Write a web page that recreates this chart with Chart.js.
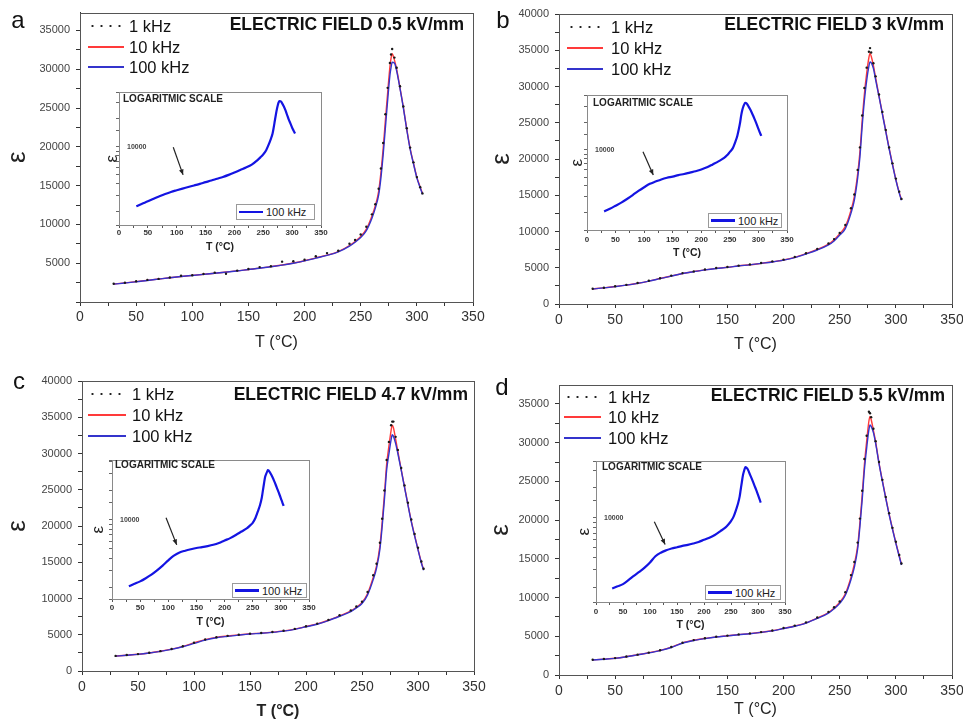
<!DOCTYPE html>
<html>
<head>
<meta charset="utf-8">
<title>Permittivity vs temperature</title>
<script src="https://cdn.jsdelivr.net/npm/chart.js@4.4.1/dist/chart.umd.min.js"></script>
<style>
  html, body { margin: 0; padding: 0; background: #fff; }
  body { width: 963px; height: 720px; overflow: hidden; position: relative; font-family: "Liberation Sans", Arial, sans-serif; }
  canvas, .t, .ln, .lg { position: absolute; }
  .t { white-space: nowrap; line-height: 1; color: #111; }
  .lg { border: 1px solid #9a9a9a; background: #fff; box-sizing: border-box; }
</style>
</head>
<body>
<script>
// Permitividad vs temperatura, 4 campos eléctricos, 3 frecuencias + inset log (100 kHz)

const TEMP = [30, 40, 50, 60, 70, 80, 90, 100, 110, 120, 130, 140, 150, 160, 170, 180, 190, 200, 210, 220, 230, 240,
  245, 250, 255, 260, 263, 266, 268, 270, 272, 274, 276, 277, 278, 280, 282, 285, 288, 291, 294, 297, 300, 303, 305];

// a) 0.5 kV/mm
const A_1K = [2350, 2480, 2680, 2850, 2980, 3150, 3380, 3450, 3600, 3780, 3650, 4050, 4250, 4500, 4600, 5200, 5250, 5450, 5900, 6300, 6600, 7500,
  8000, 8700, 9700, 11300, 12600, 14600, 17200, 20500, 24200, 27600, 30800, 31900, 32600, 31500, 30200, 27800, 25200, 22400, 19900, 18000, 16100, 14800, 14000];
const A_10K = [2320, 2460, 2620, 2790, 2960, 3130, 3290, 3430, 3570, 3710, 3860, 4010, 4190, 4360, 4560, 4770, 5020, 5320, 5680, 6040, 6500, 7280,
  7800, 8450, 9400, 11100, 12400, 14300, 16700, 19800, 23500, 27000, 30300, 31400, 32000, 31200, 30000, 27600, 25100, 22300, 19800, 17900, 16100, 14800, 14000];
const A_100K = [2300, 2450, 2600, 2780, 2950, 3120, 3280, 3420, 3560, 3700, 3850, 4000, 4180, 4350, 4550, 4750, 5000, 5300, 5650, 6000, 6450, 7200,
  7700, 8300, 9200, 10800, 12100, 13800, 16000, 19000, 22500, 26000, 29200, 30200, 30900, 30800, 29800, 27500, 25000, 22200, 19700, 17800, 16000, 14700, 13900];

// b) 3 kV/mm
const B_1K = [2100, 2250, 2440, 2640, 2900, 3200, 3560, 3920, 4260, 4500, 4760, 4960, 5110, 5300, 5460, 5660, 5880, 6120, 6500, 7000, 7600, 8350,
  8950, 9800, 10900, 13200, 15100, 18500, 21600, 26000, 29800, 32600, 34800, 35300, 34700, 33200, 31400, 28900, 26500, 24000, 21600, 19400, 17300, 15500, 14500];
const B_10K = [2080, 2230, 2410, 2610, 2860, 3160, 3510, 3860, 4210, 4460, 4710, 4910, 5060, 5260, 5410, 5610, 5820, 6070, 6430, 6950, 7520, 8250,
  8850, 9700, 10700, 12900, 14800, 18000, 21000, 25300, 29000, 31800, 34000, 34600, 34200, 32900, 31200, 28700, 26300, 23900, 21500, 19300, 17200, 15400, 14400];
const B_100K = [2070, 2220, 2400, 2600, 2850, 3150, 3500, 3850, 4200, 4450, 4700, 4900, 5050, 5250, 5400, 5600, 5800, 6050, 6400, 6900, 7450, 8150,
  8700, 9500, 10400, 12500, 14300, 17400, 20300, 24500, 28100, 30800, 32800, 33400, 33300, 32500, 30900, 28600, 26200, 23800, 21400, 19200, 17100, 15300, 14300];

// c) 4.7 kV/mm
const C_1K = [2080, 2200, 2330, 2510, 2740, 3040, 3420, 3900, 4350, 4660, 4850, 5010, 5150, 5250, 5380, 5560, 5810, 6170, 6530, 7050, 7680, 8360,
  8900, 9550, 10900, 13200, 14800, 17700, 21000, 24900, 29100, 31600, 33900, 34400, 34400, 32300, 30500, 28000, 25600, 23200, 20900, 18900, 17000, 15100, 14100];
const C_10K = [2060, 2180, 2310, 2490, 2720, 3020, 3400, 3880, 4330, 4640, 4830, 4990, 5130, 5230, 5360, 5530, 5780, 6130, 6490, 7000, 7610, 8280,
  8800, 9450, 10700, 12900, 14500, 17300, 20500, 24300, 28500, 31000, 33200, 33900, 33600, 32000, 30300, 27800, 25400, 23000, 20700, 18700, 16800, 15000, 14000];
const C_100K = [2050, 2170, 2300, 2480, 2700, 2990, 3350, 3800, 4250, 4580, 4780, 4950, 5100, 5200, 5330, 5500, 5750, 6100, 6450, 6950, 7550, 8200,
  8700, 9300, 10500, 12600, 14200, 16800, 19900, 23600, 27700, 29900, 31900, 32600, 32400, 31400, 30000, 27700, 25300, 22900, 20600, 18600, 16700, 14900, 13900];

// d) 5.5 kV/mm
const D_1K = [1970, 2070, 2180, 2380, 2630, 2890, 3200, 3620, 4170, 4510, 4750, 4950, 5090, 5240, 5370, 5540, 5750, 6060, 6380, 6800, 7420, 8150,
  8750, 9500, 10700, 12900, 14600, 17100, 20200, 23800, 27900, 30900, 34000, 33800, 33300, 31800, 30200, 27500, 25200, 23000, 20900, 19000, 17200, 15500, 14400];
const D_10K = [1950, 2050, 2160, 2360, 2610, 2870, 3180, 3600, 4150, 4490, 4730, 4930, 5070, 5220, 5350, 5520, 5720, 6020, 6330, 6740, 7350, 8070,
  8650, 9400, 10500, 12600, 14300, 16700, 19700, 23200, 27200, 30200, 32800, 33400, 33000, 31600, 30100, 27400, 25100, 22900, 20800, 18900, 17100, 15400, 14300];
const D_100K = [1940, 2040, 2150, 2350, 2600, 2850, 3150, 3550, 4100, 4450, 4700, 4900, 5050, 5200, 5330, 5500, 5700, 6000, 6300, 6700, 7300, 8000,
  8550, 9250, 10300, 12300, 13900, 16300, 19200, 22600, 26500, 29300, 31700, 32300, 32100, 31300, 29900, 27300, 25000, 22800, 20700, 18800, 17000, 15300, 14200];

// flechas del inset: [T, eps] inicio y punta
const ARROW_A = [[94, 9900], [111, 5000]];
const ARROW_B = [[98, 9560], [116, 5250]];
const ARROW_C = [[96, 10500], [115, 5490]];
const ARROW_D = [[108, 9100], [128, 5390]];

const FREQS = ["1 kHz", "10 kHz", "100 kHz"];
const FONT = '"Liberation Sans", Arial, sans-serif';
const RED = "#ff3a3a", BLUE = "#3434cc", BLUE_INS = "#1414e2";

const PANELS = [
  { letter: "a", field: "0.5", k1: A_1K, k10: A_10K, k100: A_100K, arrow: ARROW_A,
    cv: { x: 0, y: 0, w: 495, h: 360 }, plot: { l: 80, r: 473, t: 12, b: 302 }, ymax: 37300, hideZero: true,
    xLabelY: 317, xTitleY: 343, yTitleX: 18, xBold: false, letterPos: [18, 20],
    leg: { x0: 88, x1: 124, tx: 129, ys: [26, 47, 67] }, title: [464, 25],
    ins: { l: 119, r: 321, t: 88, b: 225, ymin: 1450, ymax: 38500, xLabelY: 233, xTitleY: 247, yTitleX: 112,
      log: [123, 99], lg: { l: 236, t: 204, r: 315, b: 220 } } },
  { letter: "b", field: "3", k1: B_1K, k10: B_10K, k100: B_100K, arrow: ARROW_B,
    cv: { x: 480, y: 0, w: 500, h: 360 }, plot: { l: 559, r: 952, t: 14, b: 304 }, ymax: 40000, hideZero: false,
    xLabelY: 320, xTitleY: 345, yTitleX: 502, xBold: false, letterPos: [503, 20],
    leg: { x0: 567, x1: 603, tx: 611, ys: [27, 48, 69] }, title: [944, 25],
    ins: { l: 587, r: 787, t: 91, b: 230, ymin: 1290, ymax: 40500, xLabelY: 240, xTitleY: 253, yTitleX: 577,
      log: [593, 103], lg: { l: 708, t: 213, r: 782, b: 228 } } },
  { letter: "c", field: "4.7", k1: C_1K, k10: C_10K, k100: C_100K, arrow: ARROW_C,
    cv: { x: 0, y: 360, w: 495, h: 370 }, plot: { l: 82, r: 474, t: 381, b: 671 }, ymax: 40000, hideZero: false,
    xLabelY: 687, xTitleY: 712, yTitleX: 18, xBold: true, letterPos: [19, 381],
    leg: { x0: 88, x1: 126, tx: 132, ys: [394, 415, 436] }, title: [468, 395],
    ins: { l: 112, r: 309, t: 456, b: 599, ymin: 1510, ymax: 41400, xLabelY: 608, xTitleY: 622, yTitleX: 98,
      log: [115, 465], lg: { l: 232, t: 583, r: 307, b: 598 } } },
  { letter: "d", field: "5.5", k1: D_1K, k10: D_10K, k100: D_100K, arrow: ARROW_D,
    cv: { x: 480, y: 360, w: 500, h: 370 }, plot: { l: 559, r: 952, t: 385, b: 675 }, ymax: 37450, hideZero: false,
    xLabelY: 691, xTitleY: 710, yTitleX: 501, xBold: false, letterPos: [502, 387],
    leg: { x0: 564, x1: 601, tx: 608, ys: [397, 417, 438] }, title: [945, 396],
    ins: { l: 596, r: 785, t: 457, b: 602, ymin: 1420, ymax: 37000, xLabelY: 612, xTitleY: 625, yTitleX: 584,
      log: [602, 467], lg: { l: 705, t: 585, r: 781, b: 600 } } }
];

const pairs = (xs, ys) => xs.map((x, i) => ({ x, y: ys[i] }));

// marco del área de trazado (y fondo blanco para el inset)
const frame = {
  id: "frame",
  beforeDraw(chart, args, o) {
    if (!o.fill) return;
    const { ctx, chartArea: a } = chart;
    ctx.save(); ctx.fillStyle = o.fill;
    ctx.fillRect(a.left, a.top, a.right - a.left, a.bottom - a.top);
    ctx.restore();
  },
  afterDraw(chart, args, o) {
    const { ctx, chartArea: a } = chart;
    ctx.save(); ctx.strokeStyle = o.color || "#444"; ctx.lineWidth = 1;
    ctx.strokeRect(Math.round(a.left) + 0.5, Math.round(a.top) + 0.5,
      Math.round(a.right - a.left), Math.round(a.bottom - a.top));
    ctx.restore();
  }
};

const arrow = {
  id: "arrow",
  afterDatasetsDraw(chart, args, o) {
    if (!o.pts) return;
    const { ctx, scales: { x, y } } = chart;
    const [p0, p1] = o.pts;
    const x0 = x.getPixelForValue(p0[0]), y0 = y.getPixelForValue(p0[1]);
    const x1 = x.getPixelForValue(p1[0]), y1 = y.getPixelForValue(p1[1]);
    const ang = Math.atan2(y1 - y0, x1 - x0);
    ctx.save(); ctx.strokeStyle = ctx.fillStyle = "#222"; ctx.lineWidth = 1.2;
    ctx.beginPath(); ctx.moveTo(x0, y0); ctx.lineTo(x1, y1); ctx.stroke();
    ctx.beginPath(); ctx.moveTo(x1, y1);
    ctx.lineTo(x1 - 6 * Math.cos(ang - 0.4), y1 - 6 * Math.sin(ang - 0.4));
    ctx.lineTo(x1 - 6 * Math.cos(ang + 0.4), y1 - 6 * Math.sin(ang + 0.4));
    ctx.closePath(); ctx.fill();
    ctx.restore();
  }
};

function makeCanvas(c) {
  const cv = document.createElement("canvas");
  cv.width = c.w; cv.height = c.h;
  cv.style.left = c.x + "px"; cv.style.top = c.y + "px";
  document.body.appendChild(cv);
  return cv;
}

function mainChart(p) {
  const c = p.cv;
  const xfs = 16, yfs = 26, tfs = 14, tl = 4;
  new Chart(makeCanvas(c), {
    type: "line",
    data: {
      datasets: [
        { label: FREQS[0], data: pairs(TEMP, p.k1), showLine: false, pointRadius: 1.2, pointBorderWidth: 0,
          pointBackgroundColor: "#1a1a1a", order: 0 },
        { label: FREQS[2], data: pairs(TEMP, p.k100), borderColor: BLUE, borderWidth: 1.4, pointRadius: 0,
          cubicInterpolationMode: "monotone", order: 1 },
        { label: FREQS[1], data: pairs(TEMP, p.k10), borderColor: RED, borderWidth: 1.4, pointRadius: 0,
          cubicInterpolationMode: "monotone", order: 2 }
      ]
    },
    options: {
      responsive: false, animation: false, events: [], devicePixelRatio: 1,
      layout: { padding: { top: p.plot.t - c.y, right: c.x + c.w - p.plot.r, left: 0, bottom: 0 } },
      plugins: { legend: { display: false }, tooltip: { enabled: false }, frame: { color: "#555" } },
      scales: {
        x: {
          type: "linear", min: 0, max: 350,
          afterFit: (s) => { s.height = c.y + c.h - p.plot.b; },
          border: { color: "#333", width: 1 },
          grid: { drawOnChartArea: false, tickLength: tl, color: "#333" },
          ticks: { stepSize: 25, autoSkip: false, maxRotation: 0, color: "#333",
            padding: p.xLabelY - p.plot.b - tl - tfs * 0.6,
            font: { size: tfs, family: FONT },
            callback: (v) => v % 50 === 0 ? String(v) : "" },
          title: { display: true, text: "T (°C)", color: "#222",
            font: { size: xfs, family: FONT, weight: p.xBold ? "bold" : "normal" },
            padding: { top: 0, bottom: c.y + c.h - p.xTitleY - xfs * 0.6 } }
        },
        y: {
          min: 0, max: p.ymax,
          afterFit: (s) => { s.width = p.plot.l - c.x; },
          // marcas cada 2500, etiqueta cada 5000
          afterBuildTicks: (s) => {
            const t = [];
            for (let v = 0; v <= p.ymax; v += 2500) t.push({ value: v });
            s.ticks = t;
          },
          border: { color: "#333", width: 1 },
          grid: { drawOnChartArea: false, tickLength: tl, color: "#333" },
          ticks: { autoSkip: false, padding: 6, color: "#444",
            font: { size: 11, family: FONT },
            callback: (v) => (v % 5000 === 0 && !(p.hideZero && v === 0)) ? String(v) : "" },
          title: { display: true, text: "ε", color: "#222", font: { size: yfs, family: FONT },
            padding: { top: p.yTitleX - c.x - yfs * 0.6, bottom: 0 } }
        }
      }
    },
    plugins: [frame]
  });
}

function insetChart(p) {
  const b = p.ins;
  const c = { x: b.l - 24, y: b.t - 8 };
  c.w = b.r + 12 - c.x; c.h = b.xTitleY + 10 - c.y;
  const tl = 3, efs = 17;
  new Chart(makeCanvas(c), {
    type: "line",
    data: {
      datasets: [{ label: FREQS[2], data: pairs(TEMP, p.k100), borderColor: BLUE_INS, borderWidth: 2.2,
        pointRadius: 0, cubicInterpolationMode: "monotone" }]
    },
    options: {
      responsive: false, animation: false, events: [], devicePixelRatio: 1,
      layout: { padding: { top: 8, right: 12, left: 0, bottom: 0 } },
      plugins: { legend: { display: false }, tooltip: { enabled: false },
        frame: { color: "#8a8a8a", fill: "#fff" }, arrow: { pts: p.arrow } },
      scales: {
        x: {
          type: "linear", min: 0, max: 350,
          afterFit: (s) => { s.height = c.y + c.h - b.b; },
          border: { color: "#777", width: 1 },
          grid: { drawOnChartArea: false, tickLength: tl, color: "#555" },
          ticks: { stepSize: 25, autoSkip: false, maxRotation: 0, color: "#333",
            padding: Math.max(0, b.xLabelY - b.b - tl - 8 * 0.6),
            font: { size: 8, family: FONT, weight: "bold" },
            callback: (v) => v % 50 === 0 ? String(v) : "" },
          title: { display: true, text: "T (°C)", color: "#222", font: { size: 10.5, family: FONT, weight: "bold" },
            padding: { top: 0, bottom: 10 - 10.5 * 0.6 } }
        },
        y: {
          type: "logarithmic", min: b.ymin, max: b.ymax,
          afterFit: (s) => { s.width = b.l - c.x; },
          border: { color: "#777", width: 1 },
          grid: { drawOnChartArea: false, tickLength: tl, color: "#666" },
          ticks: { mirror: true, padding: 8, autoSkip: false, color: "#444",
            font: { size: 7, family: FONT, weight: "bold" },
            callback: (v) => Number(v) === 10000 ? "10000" : "" },
          title: { display: true, text: "ε", color: "#222", font: { size: efs, family: FONT },
            padding: { top: Math.max(0, b.yTitleX - c.x - efs * 0.6), bottom: 0 } }
        }
      }
    },
    plugins: [frame, arrow]
  });
}

function txt(s, x, y, css, align) {
  const d = document.createElement("div");
  d.className = "t";
  d.textContent = s;
  const tx = align === "r" ? "-100%" : align === "c" ? "-50%" : "0";
  d.style.cssText = `left:${x}px;top:${y}px;transform:translate(${tx},-50%);${css}`;
  document.body.appendChild(d);
}

function sample(x0, x1, y, kind, color, w) {
  const d = document.createElement("div");
  d.className = "ln";
  if (kind === "dot") {
    d.style.cssText = `left:${x0}px;top:${y - 1}px;width:${x1 - x0}px;height:2px;` +
      "background-image:radial-gradient(circle, #222 0.9px, transparent 1.3px);background-size:9px 2px;";
  } else {
    d.style.cssText = `left:${x0}px;top:${y - w / 2}px;width:${x1 - x0}px;height:${w}px;background:${color};`;
  }
  document.body.appendChild(d);
}

function decorate(p) {
  txt(p.letter, p.letterPos[0], p.letterPos[1], "font-size:24px;color:#111;", "c");
  txt(`ELECTRIC FIELD ${p.field} kV/mm`, p.title[0], p.title[1], "font-size:17.5px;font-weight:bold;", "r");
  const L = p.leg;
  const kinds = [["dot", "#222"], ["line", RED], ["line", BLUE]];
  FREQS.forEach((f, i) => {
    sample(L.x0, L.x1, L.ys[i], kinds[i][0], kinds[i][1], 1.6);
    txt(f, L.tx, L.ys[i], "font-size:16.5px;", "l");
  });
  const b = p.ins;
  txt("LOGARITMIC SCALE", b.log[0], b.log[1], "font-size:10px;font-weight:bold;color:#222;", "l");
  const g = b.lg;
  const box = document.createElement("div");
  box.className = "lg";
  box.style.cssText = `left:${g.l}px;top:${g.t}px;width:${g.r - g.l}px;height:${g.b - g.t}px;`;
  document.body.appendChild(box);
  const my = (g.t + g.b) / 2;
  sample(g.l + 3, g.l + 27, my, "line", BLUE_INS, 2.4);
  txt(FREQS[2], g.l + 30, my, "font-size:11px;color:#222;", "l");
}

PANELS.forEach(mainChart);
PANELS.forEach(insetChart);
PANELS.forEach(decorate);
</script>
</body>
</html>
